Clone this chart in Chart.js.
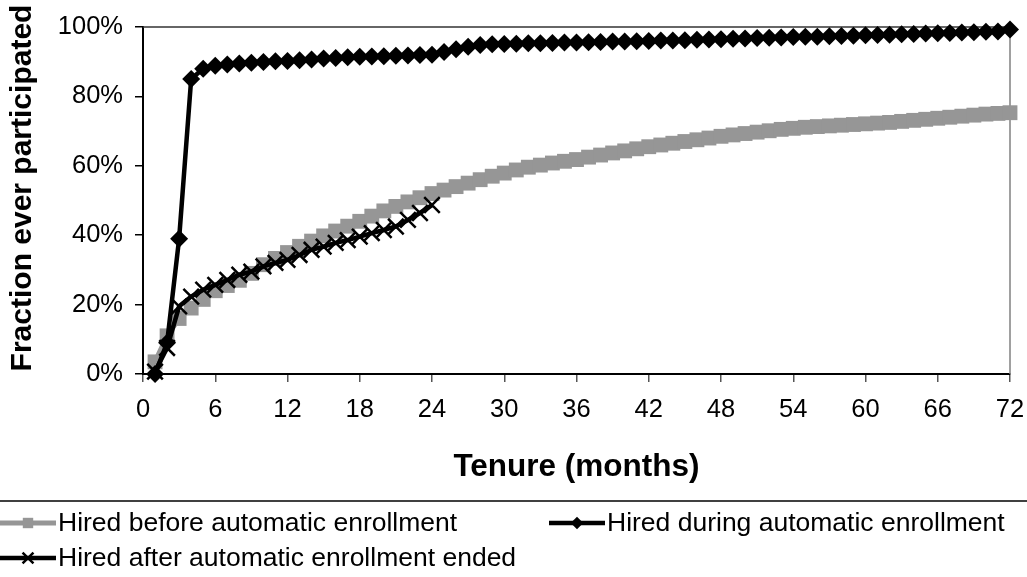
<!DOCTYPE html>
<html>
<head>
<meta charset="utf-8">
<script src="https://cdn.jsdelivr.net/npm/chart.js@4.4.0/dist/chart.umd.min.js"></script>
<style>
html, body { margin: 0; padding: 0; background: #fff; }
#wrap { width: 1027px; height: 577px; }
</style>
</head>
<body>
<div id="wrap"><canvas id="myChart" width="1027" height="577"></canvas></div>
<script>
// tenure in months
var months = [1, 2, 3, 4, 5, 6, 7, 8, 9, 10, 11, 12, 13, 14, 15, 16, 17, 18, 19, 20, 21, 22, 23, 24,
    25, 26, 27, 28, 29, 30, 31, 32, 33, 34, 35, 36, 37, 38, 39, 40, 41, 42, 43, 44, 45, 46, 47, 48,
    49, 50, 51, 52, 53, 54, 55, 56, 57, 58, 59, 60, 61, 62, 63, 64, 65, 66, 67, 68, 69, 70, 71, 72];

// fraction ever participated (%)
var hiredBefore = [3.5, 11, 16, 19, 21.5, 24, 25.5, 27, 29, 31.5, 33.3, 35, 36.8, 38.3, 39.8, 41.2, 42.6, 44,
    45.5, 47, 48.3, 49.6, 50.8, 52, 53, 54, 55, 56, 57, 57.9, 58.8, 59.6, 60.2, 60.8, 61.3, 61.8,
    62.5, 63.1, 63.7, 64.3, 64.9, 65.5, 66, 66.5, 67, 67.5, 68, 68.5, 68.9, 69.3, 69.7, 70.1, 70.5, 70.8,
    71.1, 71.3, 71.5, 71.7, 71.9, 72.1, 72.3, 72.5, 72.8, 73.1, 73.4, 73.7, 74, 74.3, 74.6, 74.9, 75.1, 75.3];

var hiredDuring = [0, 9, 39, 85, 88, 88.8, 89.2, 89.5, 89.7, 89.9, 90.1, 90.2, 90.4, 90.6, 90.9, 91.1, 91.3, 91.4,
    91.5, 91.6, 91.7, 91.8, 91.9, 92, 92.8, 93.6, 94.3, 94.8, 95, 95.1, 95.2, 95.3, 95.3, 95.4, 95.5, 95.5,
    95.6, 95.7, 95.8, 95.8, 95.9, 96, 96.1, 96.1, 96.2, 96.3, 96.4, 96.5, 96.6, 96.7, 96.8, 96.9, 97, 97.1,
    97.2, 97.2, 97.3, 97.4, 97.5, 97.6, 97.7, 97.8, 97.9, 98, 98.1, 98.2, 98.3, 98.4, 98.5, 98.6, 98.7, 99.3];

var hiredAfter = [0.7, 7.5, 19.5, 22.3, 24.3, 25.7, 27.1, 28.6, 29.5, 31, 32, 32.9,
    34.3, 35.8, 36.7, 37.8, 38.6, 39.6, 40.6, 41.5, 42.5, 44.4, 46.4, 48.7];

var seriesNames = ["Hired before automatic enrollment", "Hired during automatic enrollment",
    "Hired after automatic enrollment ended"];

var xTicks = [0, 6, 12, 18, 24, 30, 36, 42, 48, 54, 60, 66, 72];
var yTicks = [0, 20, 40, 60, 80, 100];

function pairs(vals) {
    var out = [];
    for (var i = 0; i < vals.length; i++) {
        out.push({x: months[i], y: vals[i]});
    }
    return out;
}

var FONT = "'Liberation Sans', Arial, sans-serif";

// plot area frame (top + right), Excel style
var frame = {
    id: 'frame',
    beforeDatasetsDraw: function (chart) {
        var a = chart.chartArea, ctx = chart.ctx;
        ctx.save();
        ctx.lineWidth = 1.5;
        ctx.strokeStyle = '#333';
        ctx.beginPath();
        ctx.moveTo(a.left, a.top);
        ctx.lineTo(a.right, a.top);
        ctx.stroke();
        ctx.strokeStyle = '#808080';
        ctx.beginPath();
        ctx.moveTo(a.right, a.top);
        ctx.lineTo(a.right, a.bottom);
        ctx.stroke();
        ctx.restore();
    }
};

// legend under a separator line
var legendBox = {
    id: 'legendBox',
    afterDraw: function (chart) {
        var ctx = chart.ctx;
        ctx.save();
        ctx.strokeStyle = '#000';
        ctx.lineWidth = 1.5;
        ctx.beginPath();
        ctx.moveTo(0, 501);
        ctx.lineTo(1027, 501);
        ctx.stroke();

        var spots = [[0, 523], [549, 523], [0, 558]];
        chart.data.datasets.forEach(function (ds, i) {
            var x = spots[i][0], y = spots[i][1];
            ctx.strokeStyle = ds.borderColor;
            ctx.lineWidth = ds.borderWidth;
            ctx.beginPath();
            ctx.moveTo(x, y);
            ctx.lineTo(x + 56, y);
            ctx.stroke();
            ctx.fillStyle = ds.pointBackgroundColor;
            ctx.strokeStyle = ds.pointBorderColor;
            ctx.lineWidth = ds.pointBorderWidth;
            Chart.helpers.drawPoint(ctx, {
                pointStyle: ds.pointStyle,
                radius: ds.pointRadius * 0.7,
                rotation: 0,
                borderWidth: ds.pointBorderWidth
            }, x + 28, y);
            ctx.fillStyle = '#000';
            ctx.font = '26.5px ' + FONT;
            ctx.textBaseline = 'middle';
            ctx.textAlign = 'left';
            ctx.fillText(ds.label, x + 58, y + 1);
        });
        ctx.restore();
    }
};

var ctx = document.getElementById('myChart').getContext('2d');
var myChart = new Chart(ctx, {
    type: 'line',
    data: {
        datasets: [{
                label: seriesNames[0],
                data: pairs(hiredBefore),
                borderColor: '#969696',
                borderWidth: 5,
                pointStyle: 'rect',
                pointRadius: 10.5,
                pointBackgroundColor: '#969696',
                pointBorderColor: '#969696',
                pointBorderWidth: 0,
                order: 3,
                clip: false
            }, {
                label: seriesNames[1],
                data: pairs(hiredDuring),
                borderColor: '#000',
                borderWidth: 4.5,
                pointStyle: 'rectRot',
                pointRadius: 9,
                pointBackgroundColor: '#000',
                pointBorderColor: '#000',
                pointBorderWidth: 0,
                order: 1,
                clip: false
            }, {
                label: seriesNames[2],
                data: pairs(hiredAfter),
                borderColor: '#000',
                borderWidth: 4.5,
                pointStyle: 'crossRot',
                pointRadius: 11,
                pointBackgroundColor: '#000',
                pointBorderColor: '#000',
                pointBorderWidth: 2.5,
                order: 2,
                clip: false
            }]
    },
    options: {
        responsive: false,
        animation: false,
        devicePixelRatio: 1,
        layout: {padding: {top: 27, right: 17, bottom: 87, left: 0}},
        elements: {line: {tension: 0}},
        plugins: {
            legend: {display: false},
            tooltip: {enabled: false}
        },
        scales: {
            x: {
                type: 'linear',
                min: 0,
                max: 72,
                afterFit: function (s) {
                    s.height = 116;
                    s.paddingLeft = 0;
                    s.paddingRight = 0;
                },
                afterBuildTicks: function (s) {
                    s.ticks = xTicks.map(function (v) { return {value: v}; });
                },
                border: {color: '#000', width: 2},
                grid: {drawOnChartArea: false, drawTicks: true, tickLength: 8, color: '#555', lineWidth: 1.5},
                ticks: {color: '#000', padding: 13, maxRotation: 0, font: {family: FONT, size: 25.5}},
                title: {
                    display: true,
                    text: 'Tenure (months)',
                    color: '#000',
                    font: {family: FONT, size: 31.5, weight: 'bold'},
                    padding: {top: 0, bottom: 4}
                }
            },
            y: {
                min: 0,
                max: 100,
                afterFit: function (s) {
                    s.width = 143;
                    s.paddingTop = 0;
                    s.paddingBottom = 0;
                },
                afterBuildTicks: function (s) {
                    s.ticks = yTicks.map(function (v) { return {value: v}; });
                },
                border: {color: '#000', width: 2},
                grid: {drawOnChartArea: false, drawTicks: true, tickLength: 8, color: '#000', lineWidth: 1.5},
                ticks: {
                    color: '#000',
                    padding: 12,
                    font: {family: FONT, size: 25.5},
                    callback: function (v) { return v + '%'; }
                },
                title: {
                    display: true,
                    text: '   Fraction ever participated',
                    color: '#000',
                    font: {family: FONT, size: 30, weight: 'bold'},
                    padding: 5
                }
            }
        }
    },
    plugins: [frame, legendBox]
});
</script>
</body>
</html>
